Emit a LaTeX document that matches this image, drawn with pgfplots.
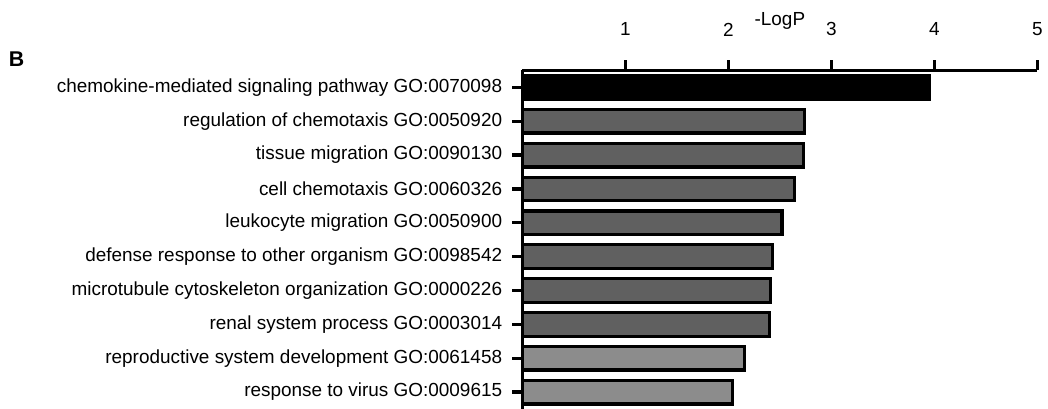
\documentclass[border=0pt]{standalone}
\usepackage{pgfplots}
\pgfplotsset{compat=1.18}
\usepackage{fontspec}
\setmainfont{Liberation Sans}
\usetikzlibrary{calc}
\definecolor{darkbar}{RGB}{96,96,96}
\definecolor{lightbar}{RGB}{140,140,140}
\begin{document}
\begin{tikzpicture}
\begin{axis}[
  scale only axis, width=386.25pt, height=253.9pt,
  xbar, bar shift=0pt, bar width=0.70,
  xmin=0, xmax=5, ymin=0.5, ymax=10.5, y dir=reverse,
  axis x line=top, axis y line=left,
  axis line style={-, line width=2.8pt, black},
  tick style={line width=2.5pt, black},
  tick align=outside, major tick length=7.5pt,
  xtick={1,2,3,4,5}, ytick={1,...,10},
  yticklabels={chemokine-mediated signaling pathway GO:0070098,
    regulation of chemotaxis GO:0050920,
    tissue migration GO:0090130,
    cell chemotaxis GO:0060326,
    leukocyte migration GO:0050900,
    defense response to other organism GO:0098542,
    microtubule cytoskeleton organization GO:0000226,
    renal system process GO:0003014,
    reproductive system development GO:0061458,
    response to virus GO:0009615},
  ticklabel style={font=\fontsize{14.2}{17}\selectfont},
  /pgf/number format/assume math mode=true,
  yticklabel style={anchor=east, inner sep=0pt, xshift=-7.5pt},
  xticklabel style={anchor=center, inner sep=0pt, yshift=23.25pt},
  xlabel={-LogP},
  xlabel style={at={(axis description cs:0.5,1)}, anchor=center, inner sep=0pt, yshift=36.8pt, font=\fontsize{14.2}{17}\selectfont},
  clip=false,
]
\addplot[fill=black, draw=black, line width=2.4pt] coordinates {(3.95,1)};
\addplot[fill=darkbar, draw=black, line width=2.4pt] coordinates {(2.735,2) (2.73,3) (2.64,4) (2.52,5) (2.43,6) (2.41,7) (2.40,8)};
\addplot[fill=lightbar, draw=black, line width=2.4pt] coordinates {(2.155,9) (2.04,10)};
\end{axis}
\node[font=\bfseries\fontsize{16}{19}\selectfont, inner sep=0pt] at ($(current axis.north west)+(-379.4pt,8.25pt)$) {B};
\pgfresetboundingbox
\path[use as bounding box] ($(current axis.south west)+(-391.8pt,0pt)$) rectangle ++(786pt,306.75pt);
\end{tikzpicture}
\end{document}
